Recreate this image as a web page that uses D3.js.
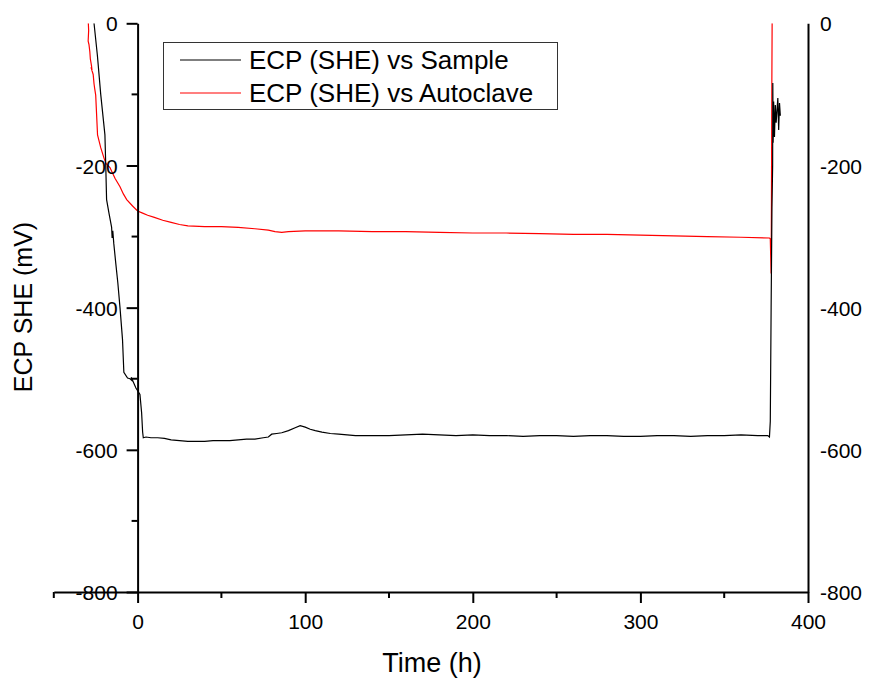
<!DOCTYPE html>
<html>
<head>
<meta charset="utf-8">
<script src="https://cdn.jsdelivr.net/npm/d3@7"></script>
<style>
  body { margin: 0; background: #fff; }
  svg text { font-family: "Liberation Sans", Arial, sans-serif; fill: #000; }
  .axis path, .axis line { stroke: #000; stroke-width: 2; }
</style>
</head>
<body>
<svg id="chart" width="870" height="683"></svg>
<script>
// Series: ECP (SHE) vs Sample (black)
var sampleTime = [-26, -24, -22, -19.5, -19, -18.5, -17, -15.5, -15.2, -14.8, -14.2, -13, -11.8, -10.5, -9, -8.2, -6, -4.5, -3.6, -3.8, -1, 1.4, 2.4, 3, 3.4,
  5, 8, 12, 16, 20, 25, 30, 35, 40, 45, 50, 55, 60, 65, 70, 75, 78, 80, 83, 86, 90, 94, 97, 100, 103, 106, 110, 115, 120, 125, 130,
  140, 150, 160, 170, 180, 190, 200, 210, 220, 230, 240, 250, 260, 270, 280, 290, 300, 310, 320, 330, 340, 350, 360, 370, 376, 377,
  377.5, 378, 378.5, 378.9, 379, 379.2, 379.5, 380, 380.5, 381, 382, 382.5, 383, 383.5];
var sampleEcp = [0, -45, -100, -157, -200, -248, -268, -287, -302, -292, -310, -338, -365, -400, -445, -491, -499, -500, -502, -498, -513, -522, -548, -575, -583,
  -582, -583, -583, -584, -586, -587, -588, -588, -588, -587, -587, -587, -586, -585, -585, -583, -582, -578, -577, -576, -573, -569, -566, -568, -571, -573, -575, -577, -578, -579, -580,
  -580, -580, -579, -578, -579, -580, -579, -580, -580, -581, -580, -580, -581, -580, -580, -581, -581, -580, -580, -581, -580, -580, -579, -580, -580, -582,
  -560, -400, -258, -200, -84, -168, -110, -160, -115, -140, -105, -150, -112, -130];

// Series: ECP (SHE) vs Autoclave (red)
var autoclaveTime = [-29.4, -29.2, -29.5, -29, -28.5, -28.2, -27.5, -27.2, -27.8, -26.5, -26, -25.6, -25, -23.9, -22, -20, -18.9, -16.5, -13.5, -10.5, -8.5, -6.5, -3, 0,
  3, 6, 10, 15, 20, 25, 30, 40, 50, 60, 70, 78, 82, 86, 90, 100, 110, 120, 140, 160, 180, 200, 220, 240, 260, 280, 300, 320, 340, 360, 377,
  377.5, 378, 378.2, 378.4, 378.6];
var autoclaveEcp = [0, -10, -25, -30, -40, -50, -60, -66, -62, -72, -85, -92, -101, -157, -175, -190, -197, -203, -218, -230, -240, -248, -257, -264,
  -267, -270, -273, -277, -280, -283, -285, -286, -286, -287, -289, -291, -293, -294, -293, -292, -292, -292, -293, -293, -294, -295, -295, -296, -297, -297, -298, -299, -300, -301, -302,
  -303, -352, -250, -100, 0];

var xMajorTicks = [0, 100, 200, 300, 400];
var xMinorTicks = [-50, 50, 150, 250, 350];
var yMajorTicks = [0, -200, -400, -600, -800];
var yMinorTicks = [-100, -300, -500, -700];

var legendLabels = ["ECP (SHE) vs Sample", "ECP (SHE) vs Autoclave"];
var seriesColors = ["#000000", "#ff0000"];

var svg = d3.select("#chart");

var x = d3.scaleLinear().domain([-50, 400]).range([53.8, 808]);
var y = d3.scaleLinear().domain([-800, 0]).range([592, 23.3]);

// clip data to plot area
svg.append("defs").append("clipPath").attr("id", "plotClip")
  .append("rect")
  .attr("x", x(-50)).attr("y", y(0))
  .attr("width", x(400) - x(-50)).attr("height", y(-800) - y(0));

var line = d3.line()
  .x(function(d) { return x(d[0]); })
  .y(function(d) { return y(d[1]); });

var sampleData = sampleTime.map(function(t, i) { return [t, sampleEcp[i]]; });
var autoclaveData = autoclaveTime.map(function(t, i) { return [t, autoclaveEcp[i]]; });

var plot = svg.append("g").attr("clip-path", "url(#plotClip)");
plot.append("path").datum(autoclaveData)
  .attr("d", line).attr("fill", "none")
  .attr("stroke", seriesColors[1]).attr("stroke-width", 1.2);
plot.append("path").datum(sampleData)
  .attr("d", line).attr("fill", "none")
  .attr("stroke", seriesColors[0]).attr("stroke-width", 1.2);

// x axis (bottom), major + minor ticks pointing down
var xAxis = svg.append("g").attr("class", "axis")
  .attr("transform", "translate(0," + y(-800) + ")");
xAxis.call(d3.axisBottom(x).tickValues(xMajorTicks).tickSize(11).tickSizeOuter(0).tickFormat(d3.format("d")));
xAxis.selectAll(".tick text").attr("font-size", 21).attr("dy", null).attr("y", 37);
xAxis.selectAll(".minor").data(xMinorTicks).enter().append("line")
  .attr("class", "minor")
  .attr("x1", function(d) { return x(d); }).attr("x2", function(d) { return x(d); })
  .attr("y1", 0).attr("y2", 6);

// left y axis sits at time 0
var yAxis = svg.append("g").attr("class", "axis")
  .attr("transform", "translate(" + x(0) + ",0)");
yAxis.call(d3.axisLeft(y).tickValues(yMajorTicks).tickSize(11).tickSizeOuter(0).tickFormat(d3.format("d")));
yAxis.selectAll(".tick text").attr("font-size", 21).attr("x", -20).attr("dy", "0.36em");
yAxis.selectAll(".minor").data(yMinorTicks).enter().append("line")
  .attr("class", "minor")
  .attr("y1", function(d) { return y(d); }).attr("y2", function(d) { return y(d); })
  .attr("x1", 0).attr("x2", -6);

// right y axis, labels only
var yRight = svg.append("g").attr("class", "axis")
  .attr("transform", "translate(" + x(400) + ",0)");
yRight.call(d3.axisRight(y).tickValues(yMajorTicks).tickSize(0).tickSizeOuter(0).tickFormat(d3.format("d")));
yRight.selectAll(".tick text").attr("font-size", 21).attr("x", 12).attr("dy", "0.36em");

// plain hyphen for negative labels, like the original
svg.selectAll(".tick text").text(function(d) { return String(d); });

// axis titles
svg.append("text")
  .attr("x", 432).attr("y", 672)
  .attr("text-anchor", "middle")
  .attr("font-size", 27)
  .text("Time (h)");
svg.append("text")
  .attr("transform", "translate(32,307) rotate(-90)")
  .attr("text-anchor", "middle")
  .attr("font-size", 25)
  .text("ECP SHE (mV)");

// legend
var legend = svg.append("g");
legend.append("rect")
  .attr("x", 163.5).attr("y", 42.5).attr("width", 394).attr("height", 67)
  .attr("fill", "#fff").attr("stroke", "#333").attr("stroke-width", 1);
legendLabels.forEach(function(label, i) {
  var ly = 60 + i * 33;
  legend.append("line")
    .attr("x1", 180).attr("x2", 241).attr("y1", ly).attr("y2", ly)
    .attr("stroke", seriesColors[i]).attr("stroke-width", 1.2);
  legend.append("text")
    .attr("x", 249).attr("y", ly + 9)
    .attr("font-size", 26)
    .text(label);
});
</script>
</body>
</html>
